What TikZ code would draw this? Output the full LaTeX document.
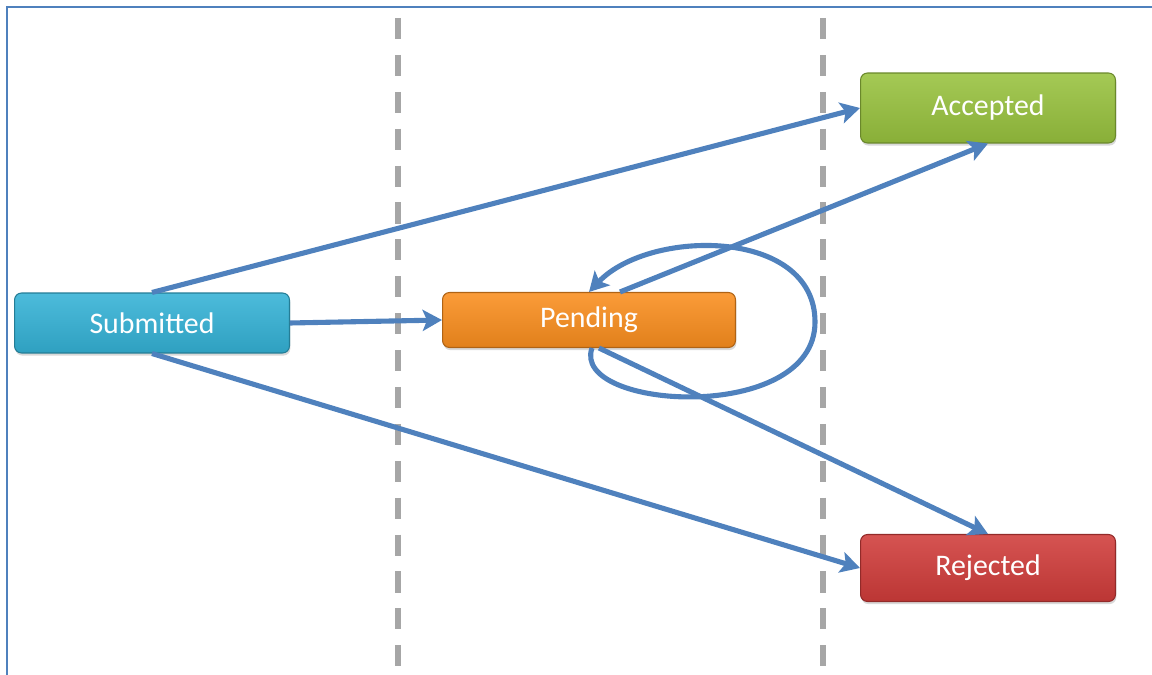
\documentclass[tikz,border=0pt]{standalone}
\usepackage{fontspec}
\setmainfont{Carlito}
\usepackage{tikz}
\definecolor{frameblue}{RGB}{79, 129, 189}
\definecolor{laneline}{RGB}{166, 166, 166}
\definecolor{submitted}{RGB}{52, 178, 214}
\definecolor{pending}{RGB}{250, 142, 30}
\definecolor{accepted}{RGB}{152, 194, 62}
\definecolor{rejected}{RGB}{208, 60, 58}
\usetikzlibrary{arrows.meta, positioning, calc, shadows}

\begin{document}
\begin{tikzpicture}[x=0.02cm, y=-0.02cm,
    state/.style={rounded corners=4pt, draw=#1!70!black, line width=0.6pt,
                  top color=#1!88!white, bottom color=#1!90!black,
                  drop shadow={shadow xshift=0.5pt, shadow yshift=-1.5pt, opacity=0.3},
                  text=white, font=\fontsize{17}{20}\selectfont,
                  minimum width=5.4cm, minimum height=1.2cm, align=center},
    flow/.style={frameblue, line width=2.9pt,
                 -{Stealth[length=11pt, width=12pt, inset=2.5pt]}},
    lane/.style={laneline, line width=3.2pt, dash pattern=on 12pt off 9pt}
]
    \useasboundingbox (0,0) rectangle (1152,675);

    % Frame
    \draw[frameblue, line width=1.6pt] (7,675) -- (7,7) -- (1152,7);

    % Lanes
    \draw[lane] (398,18) -- (398,670);
    \draw[lane] (823,18) -- (823,670);

    % States
    \node[state=submitted, minimum width=5.5cm] (sub) at (152,323) {Submitted};
    \node[state=pending, minimum width=5.86cm, minimum height=1.1cm] (pend) at (589,320) {Pending};
    \node[state=accepted, minimum width=5.1cm, minimum height=1.4cm] (acc) at (988,108) {Accepted};
    \node[state=rejected, minimum width=5.1cm, minimum height=1.34cm] (rej) at (988,568) {Rejected};

    % Transitions
    \draw[flow] (sub.north) -- (acc.west);
    \draw[flow] (sub.east) -- (pend.west);
    \draw[flow] (sub.south) -- (rej.west);
    \draw[flow] ([xshift=0.62cm]pend.north) -- (acc.south);
    \draw[flow] ([xshift=0.2cm]pend.south) -- (rej.north);
    \draw[flow] ([xshift=0.06cm]pend.south)
        .. controls (570,410) and (815,425) .. (815,322)
        .. controls (815,228) and (650,228) .. (pend.north);
\end{tikzpicture}
\end{document}
